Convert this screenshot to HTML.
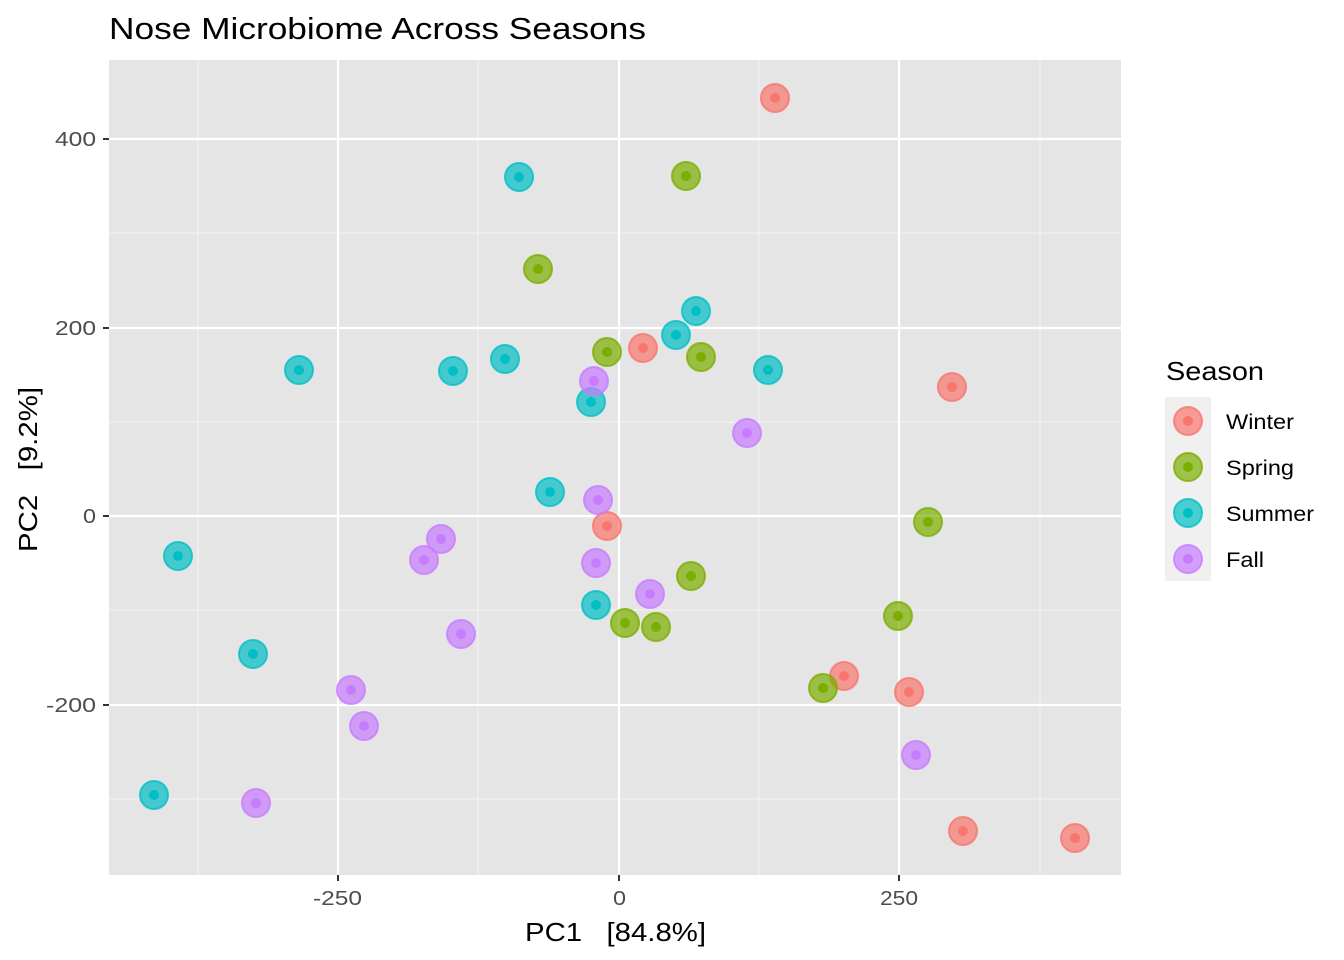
<!DOCTYPE html><html><head><style>body{margin:0;background:#fff}svg{display:block}text{font-family:"Liberation Sans",sans-serif}</style></head><body>
<svg id="s" width="1344" height="960" xmlns="http://www.w3.org/2000/svg">
<rect x="109" y="60" width="1012" height="815" fill="#e5e5e5"/>
<g stroke="#f2f2f2" stroke-width="1.1">
<line x1="198" x2="198" y1="60" y2="875"/><line x1="478" x2="478" y1="60" y2="875"/><line x1="759" x2="759" y1="60" y2="875"/><line x1="1040" x2="1040" y1="60" y2="875"/>
<line x1="109" x2="1121" y1="233" y2="233"/><line x1="109" x2="1121" y1="422" y2="422"/><line x1="109" x2="1121" y1="610" y2="610"/><line x1="109" x2="1121" y1="799" y2="799"/>
</g>
<g stroke="#fff" stroke-width="2.2">
<line x1="338" x2="338" y1="60" y2="875"/><line x1="619" x2="619" y1="60" y2="875"/><line x1="899" x2="899" y1="60" y2="875"/>
<line x1="109" x2="1121" y1="139" y2="139"/><line x1="109" x2="1121" y1="328" y2="328"/><line x1="109" x2="1121" y1="516" y2="516"/><line x1="109" x2="1121" y1="705" y2="705"/>
</g>
<g stroke="#333" stroke-width="2">
<line x1="103" x2="109" y1="139" y2="139"/><line x1="103" x2="109" y1="328" y2="328"/><line x1="103" x2="109" y1="516" y2="516"/><line x1="103" x2="109" y1="705" y2="705"/>
<line x1="338" x2="338" y1="875" y2="881"/><line x1="619" x2="619" y1="875" y2="881"/><line x1="899" x2="899" y1="875" y2="881"/>
</g>
<g id="pts"></g>
<g font-size="20" fill="#4d4d4d" lengthAdjust="spacingAndGlyphs">
<text x="55" y="146" textLength="41" lengthAdjust="spacingAndGlyphs">400</text>
<text x="55" y="335" textLength="41" lengthAdjust="spacingAndGlyphs">200</text>
<text x="83" y="523" textLength="13" lengthAdjust="spacingAndGlyphs">0</text>
<text x="46" y="712" textLength="50" lengthAdjust="spacingAndGlyphs">-200</text>
<text x="313" y="905" textLength="49" lengthAdjust="spacingAndGlyphs">-250</text>
<text x="613" y="905" textLength="13" lengthAdjust="spacingAndGlyphs">0</text>
<text x="880" y="905" textLength="38" lengthAdjust="spacingAndGlyphs">250</text>
</g>
<text x="525" y="941" font-size="26" textLength="181" lengthAdjust="spacingAndGlyphs" xml:space="preserve">PC1   [84.8%]</text>
<text transform="translate(37,552) rotate(-90)" font-size="26" textLength="165" lengthAdjust="spacingAndGlyphs" xml:space="preserve">PC2   [9.2%]</text>
<text x="109" y="39" font-size="31" textLength="537" lengthAdjust="spacingAndGlyphs">Nose Microbiome Across Seasons</text>
<text x="1166" y="380" font-size="26" textLength="98" lengthAdjust="spacingAndGlyphs">Season</text>
<rect x="1165" y="397" width="46" height="184" fill="#f0f0f0"/>
<g font-size="21">
<text x="1226" y="429" textLength="68" lengthAdjust="spacingAndGlyphs">Winter</text>
<text x="1226" y="475" textLength="68" lengthAdjust="spacingAndGlyphs">Spring</text>
<text x="1226" y="521" textLength="88" lengthAdjust="spacingAndGlyphs">Summer</text>
<text x="1226" y="567" textLength="38" lengthAdjust="spacingAndGlyphs">Fall</text>
</g>
</svg>
<script>
var C={w:"#F8766D",s:"#7CAE00",u:"#00BFC4",f:"#C77CFF"};
var P={w:[[775,98],[643,348],[952,387],[607,526],[844,676],[909,692],[963,831],[1075,838],[1188,421]],
s:[[686,176],[538,269],[607,352],[701,357],[928,522],[691,576],[625,623],[656,627],[898,616],[823,688],[1188,467]],
u:[[519,177],[696,311],[676,335],[768,370],[299,370],[453,371],[505,359],[591,402],[550,492],[178,556],[596,605],[253,654],[154,795],[1188,513]],
f:[[594,381],[747,433],[598,500],[441,539],[424,560],[596,563],[650,594],[461,634],[351,690],[364,726],[916,755],[256,803],[1188,559]]};
var h="";for(var k in P){P[k].forEach(function(p){h+='<circle cx="'+p[0]+'" cy="'+p[1]+'" r="14" fill="'+C[k]+'" fill-opacity="0.7" stroke="'+C[k]+'" stroke-opacity="0.8" stroke-width="2"/><circle cx="'+p[0]+'" cy="'+p[1]+'" r="5" fill="'+C[k]+'"/>';});}
var g=document.getElementById("pts");g.innerHTML=h;
document.getElementById("s").appendChild(g);
</script>
</body></html>
